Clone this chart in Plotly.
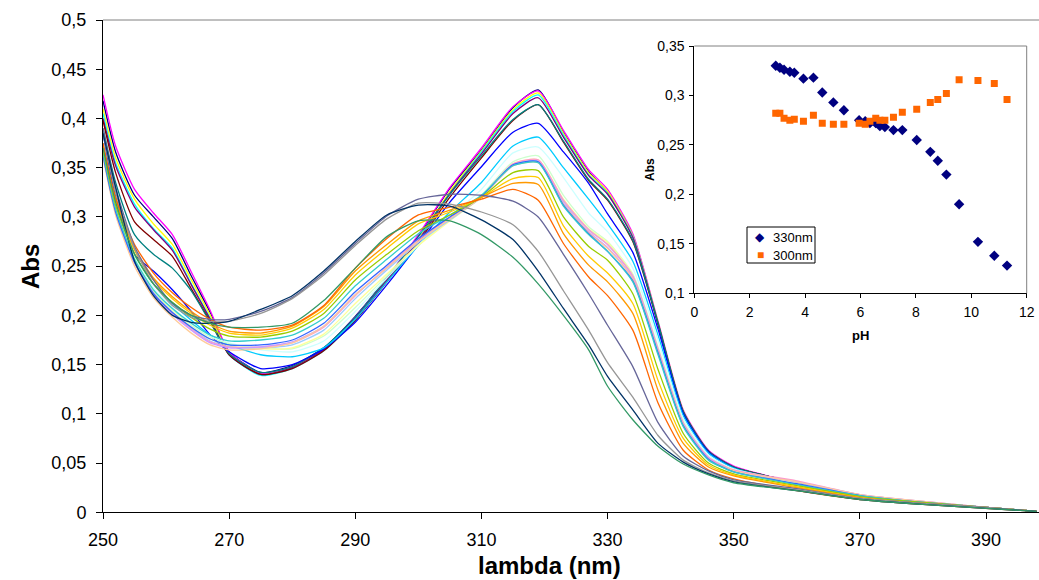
import plotly.graph_objects as go

# ---------------- data ----------------
wavelength = [250, 252, 255, 258, 261, 264, 267, 270, 275, 280, 285, 290, 295, 300, 305,
              310, 315, 319, 323, 327, 330, 334, 338, 342, 346, 350, 360, 370, 380, 390, 398]

s01 = [.418,.366,.322,.300,.278,.240,.203,.163,.142,.149,.167,.199,.238,.281,.329,.368,.411,.429,.386,.346,.325,.281,.192,.102,.062,.046,.030,.017,.010,.005,.001]
s02 = [.424,.372,.328,.304,.282,.244,.205,.163,.141,.148,.166,.198,.238,.282,.330,.370,.412,.428,.388,.348,.328,.283,.194,.104,.063,.047,.030,.017,.010,.005,.001]
s03 = [.410,.360,.318,.293,.272,.236,.200,.161,.140,.147,.165,.196,.236,.277,.326,.367,.409,.426,.385,.345,.326,.281,.193,.103,.062,.046,.030,.017,.010,.005,.001]
s04 = [.405,.355,.313,.288,.268,.232,.197,.160,.139,.146,.164,.195,.235,.275,.324,.366,.407,.424,.383,.343,.324,.280,.192,.102,.062,.046,.030,.017,.010,.005,.001]
s05 = [.400,.352,.310,.287,.266,.231,.196,.160,.140,.147,.165,.196,.236,.276,.324,.364,.405,.421,.381,.342,.323,.279,.192,.102,.062,.046,.030,.017,.010,.005,.001]
s06 = [.398,.345,.295,.277,.260,.227,.194,.160,.140,.146,.164,.195,.234,.274,.320,.360,.398,.414,.376,.337,.317,.275,.191,.102,.062,.046,.030,.017,.010,.005,.001]
s07 = [.390,.335,.282,.262,.248,.225,.193,.161,.142,.148,.167,.198,.238,.280,.323,.362,.399,.414,.377,.338,.318,.276,.192,.102,.062,.046,.030,.017,.010,.005,.001]
s08 = [.385,.320,.262,.245,.226,.204,.180,.163,.146,.150,.166,.193,.231,.272,.315,.351,.386,.395,.366,.334,.303,.264,.186,.100,.061,.045,.029,.017,.010,.005,.001]
s09 = [.375,.315,.262,.232,.212,.195,.180,.170,.160,.158,.167,.196,.234,.271,.305,.335,.372,.381,.350,.318,.293,.255,.180,.098,.060,.045,.029,.017,.010,.005,.001]
s10 = [.370,.312,.260,.228,.208,.192,.179,.172,.165,.163,.174,.204,.238,.271,.300,.328,.365,.371,.340,.304,.285,.248,.175,.095,.058,.044,.030,.017,.010,.005,.001]
s11 = [.368,.310,.258,.226,.206,.190,.178,.171,.167,.166,.179,.208,.240,.272,.297,.322,.356,.362,.322,.290,.275,.242,.168,.092,.056,.043,.030,.017,.010,.005,.001]
s12 = [.366,.308,.256,.224,.204,.188,.176,.169,.166,.167,.181,.212,.242,.271,.296,.320,.354,.358,.318,.288,.274,.241,.166,.091,.055,.043,.030,.017,.010,.005,.001]
s13 = [.365,.307,.255,.223,.203,.187,.174,.168,.167,.170,.185,.217,.246,.274,.297,.320,.353,.357,.316,.287,.272,.240,.165,.090,.055,.042,.031,.017,.010,.005,.001]
s14 = [.364,.306,.254,.222,.202,.186,.173,.168,.168,.172,.188,.220,.249,.277,.299,.321,.354,.358,.317,.287,.272,.240,.166,.091,.056,.043,.032,.018,.011,.005,.001]
s15 = [.363,.305,.253,.221,.201,.185,.172,.167,.168,.173,.189,.221,.248,.275,.298,.320,.352,.356,.314,.285,.269,.238,.164,.090,.055,.042,.031,.018,.011,.005,.001]
s16 = [.360,.302,.250,.218,.198,.182,.170,.165,.166,.172,.189,.221,.248,.275,.298,.320,.352,.355,.313,.284,.268,.237,.163,.089,.054,.042,.031,.018,.011,.005,.001]
s17 = [.362,.305,.254,.222,.203,.188,.176,.170,.170,.175,.192,.224,.251,.278,.300,.321,.353,.356,.312,.283,.265,.235,.162,.088,.054,.041,.029,.017,.010,.005,.001]
s18 = [.365,.308,.257,.226,.207,.192,.180,.174,.175,.180,.197,.230,.257,.283,.302,.322,.352,.355,.311,.282,.265,.234,.160,.087,.053,.041,.028,.017,.010,.005,.001]
s19 = [.368,.312,.262,.232,.213,.198,.186,.179,.178,.184,.202,.236,.262,.286,.302,.320,.345,.347,.300,.270,.256,.222,.145,.080,.050,.039,.027,.016,.010,.005,.001]
s20 = [.370,.315,.266,.236,.217,.202,.190,.182,.180,.187,.206,.241,.268,.293,.305,.320,.339,.340,.291,.260,.243,.212,.134,.075,.048,.038,.026,.015,.009,.005,.001]
s21 = [.372,.317,.268,.238,.219,.204,.192,.184,.182,.189,.209,.245,.272,.296,.307,.320,.334,.333,.283,.251,.234,.202,.124,.070,.046,.037,.025,.015,.009,.005,.001]
s22 = [.375,.320,.272,.243,.223,.208,.196,.188,.185,.190,.210,.248,.278,.302,.310,.318,.328,.317,.273,.239,.220,.185,.111,.063,.043,.034,.022,.013,.008,.004,.001]
s23 = [.390,.330,.270,.236,.212,.200,.196,.196,.204,.218,.243,.273,.301,.318,.323,.322,.316,.300,.262,.222,.190,.148,.091,.057,.042,.033,.024,.014,.009,.005,.001]
s24 = [.385,.325,.268,.232,.210,.198,.194,.194,.202,.217,.241,.271,.298,.314,.313,.305,.292,.265,.225,.185,.152,.117,.078,.053,.040,.032,.023,.014,.009,.005,.001]
s25 = [.385,.330,.255,.220,.200,.193,.192,.194,.206,.220,.245,.275,.302,.312,.311,.297,.277,.245,.207,.170,.138,.104,.070,.051,.039,.031,.022,.013,.008,.004,.001]
s26 = [.370,.315,.262,.232,.213,.200,.192,.188,.188,.192,.215,.248,.280,.296,.296,.282,.259,.232,.200,.165,.128,.094,.067,.049,.038,.030,.022,.013,.008,.004,.001]

series = [s01, s02, s03, s04, s05, s06, s07, s08, s09, s10, s11, s12, s13,
          s14, s15, s16, s17, s18, s19, s20, s21, s22, s23, s24, s25, s26]

line_colors = ["#000080", "#FF00FF", "#FFFF00", "#00FFFF", "#800080", "#800000", "#008080",
               "#0000FF", "#00CCFF", "#CCFFFF", "#CCFFCC", "#FFFF99", "#99CCFF", "#FF99CC",
               "#CC99FF", "#FFCC99", "#3366FF", "#33CCCC", "#99CC00", "#FFCC00", "#FF9900",
               "#FF6600", "#666699", "#969696", "#003366", "#339966"]

ph = [2.94, 3.09, 3.24, 3.45, 3.61, 3.94, 4.30, 4.62, 5.02, 5.40, 5.95, 6.17, 6.34,
      6.55, 6.70, 6.88, 7.19, 7.51, 8.03, 8.52, 8.79, 9.10, 9.56, 10.24, 10.83, 11.29]
abs330 = [0.330, 0.328, 0.326, 0.324, 0.323, 0.317, 0.318, 0.303, 0.293, 0.285, 0.275, 0.274, 0.272,
          0.272, 0.269, 0.268, 0.265, 0.265, 0.255, 0.243, 0.234, 0.220, 0.190, 0.152, 0.138, 0.128]
abs300 = [0.282, 0.282, 0.277, 0.275, 0.276, 0.274, 0.280, 0.272, 0.271, 0.271, 0.272, 0.271, 0.274,
          0.277, 0.275, 0.275, 0.278, 0.283, 0.286, 0.293, 0.296, 0.302, 0.316, 0.315, 0.312, 0.296]
legend_names = ["330nm", "300nm"]

x_ticks = [250, 270, 290, 310, 330, 350, 370, 390]
x_ticklabels = ["250", "270", "290", "310", "330", "350", "370", "390"]
y_ticks = [0, 0.05, 0.1, 0.15, 0.2, 0.25, 0.3, 0.35, 0.4, 0.45, 0.5]
y_ticklabels = ["0", "0,05", "0,1", "0,15", "0,2", "0,25", "0,3", "0,35", "0,4", "0,45", "0,5"]
inset_x_ticks = [0, 2, 4, 6, 8, 10, 12]
inset_x_ticklabels = ["0", "2", "4", "6", "8", "10", "12"]
inset_y_ticks = [0.1, 0.15, 0.2, 0.25, 0.3, 0.35]
inset_y_ticklabels = ["0,1", "0,15", "0,2", "0,25", "0,3", "0,35"]

# ---------------- figure ----------------
W, H = 1039, 580
def px(x):
    return x / W
def py(y):
    return 1 - y / H

FONT = "Liberation Sans, Arial, sans-serif"
NAVY, ORANGE = "#000080", "#FF6600"
fig = go.Figure()

for vals, col in zip(series, line_colors):
    fig.add_trace(go.Scatter(x=wavelength, y=vals, mode="lines",
                             line=dict(color=col, width=1.3, shape="spline", smoothing=0.6),
                             showlegend=False, hoverinfo="skip", xaxis="x", yaxis="y"))

fig.add_trace(go.Scatter(x=ph, y=abs330, mode="markers", name=legend_names[0], showlegend=False,
                         marker=dict(symbol="diamond", size=8, color=NAVY),
                         xaxis="x2", yaxis="y2"))
fig.add_trace(go.Scatter(x=ph, y=abs300, mode="markers", name=legend_names[1], showlegend=False,
                         marker=dict(symbol="square", size=7, color=ORANGE),
                         xaxis="x2", yaxis="y2"))

axis_common = dict(showgrid=False, zeroline=False, showline=True, linecolor="black",
                   linewidth=1, ticks="outside", tickcolor="black", tickwidth=1,
                   automargin=False)

def ann(text, x, y, size, color="black", bold=False, angle=0, xanchor="center"):
    return dict(text=text, x=px(x), y=py(y), xref="paper", yref="paper", showarrow=False,
                xanchor=xanchor, yanchor="middle", textangle=angle,
                font=dict(size=size, family=FONT, color=color, weight="bold" if bold else "normal"))

fig.update_layout(
    width=W, height=H,
    margin=dict(l=0, r=0, t=0, b=0, autoexpand=False),
    paper_bgcolor="white", plot_bgcolor="white",
    font=dict(family=FONT, color="black"),
    showlegend=False,
    xaxis=dict(domain=[px(103), 1.0], range=[250, 398.4], anchor="y",
               tickvals=x_ticks, ticktext=x_ticklabels, ticklen=6,
               tickfont=dict(size=18, family=FONT), ticklabelstandoff=5, **axis_common),
    yaxis=dict(domain=[py(512.3), py(20)], range=[0, 0.5], anchor="x",
               tickvals=y_ticks, ticktext=y_ticklabels, ticklen=6,
               tickfont=dict(size=18, family=FONT), ticklabelstandoff=6, **axis_common),
    xaxis2=dict(domain=[px(694.3), px(1026.7)], range=[0, 12], anchor="y2",
                tickvals=inset_x_ticks, ticktext=inset_x_ticklabels, ticklen=4,
                tickfont=dict(size=14, family=FONT), ticklabelstandoff=2, **axis_common),
    yaxis2=dict(domain=[py(293.3), py(46)], range=[0.1, 0.35], anchor="x2",
                tickvals=inset_y_ticks, ticktext=inset_y_ticklabels, ticklen=4,
                tickfont=dict(size=14, family=FONT), ticklabelstandoff=2, **axis_common),
    shapes=[
        dict(type="line", xref="paper", yref="paper", x0=px(103), x1=1.0, y0=py(20), y1=py(20),
             line=dict(color="#808080", width=1)),
        dict(type="line", xref="paper", yref="paper", x0=px(694.3), x1=px(1026.7), y0=py(46), y1=py(46),
             line=dict(color="#808080", width=1)),
        dict(type="line", xref="paper", yref="paper", x0=px(1026.7), x1=px(1026.7), y0=py(293.3), y1=py(46),
             line=dict(color="#808080", width=1)),
        # legend box
        dict(type="rect", xref="paper", yref="paper", x0=px(747), x1=px(815), y0=py(263), y1=py(227),
             line=dict(color="black", width=1), fillcolor="white", layer="above"),
    ],
    annotations=[
        ann("lambda (nm)", 549, 565, 24, bold=True),
        ann("Abs", 30, 267, 24, bold=True, angle=-90),
        ann("Abs", 650, 170, 12, bold=True, angle=-90),
        ann("pH", 860, 335, 13, bold=True),
        ann("\u25C6", 760, 237, 12, color=NAVY),
        ann("\u25A0", 760, 255, 12, color=ORANGE),
        ann(legend_names[0], 771, 237, 13, xanchor="left"),
        ann(legend_names[1], 771, 255, 13, xanchor="left"),
    ],
)

fig.write_html("out.html")
